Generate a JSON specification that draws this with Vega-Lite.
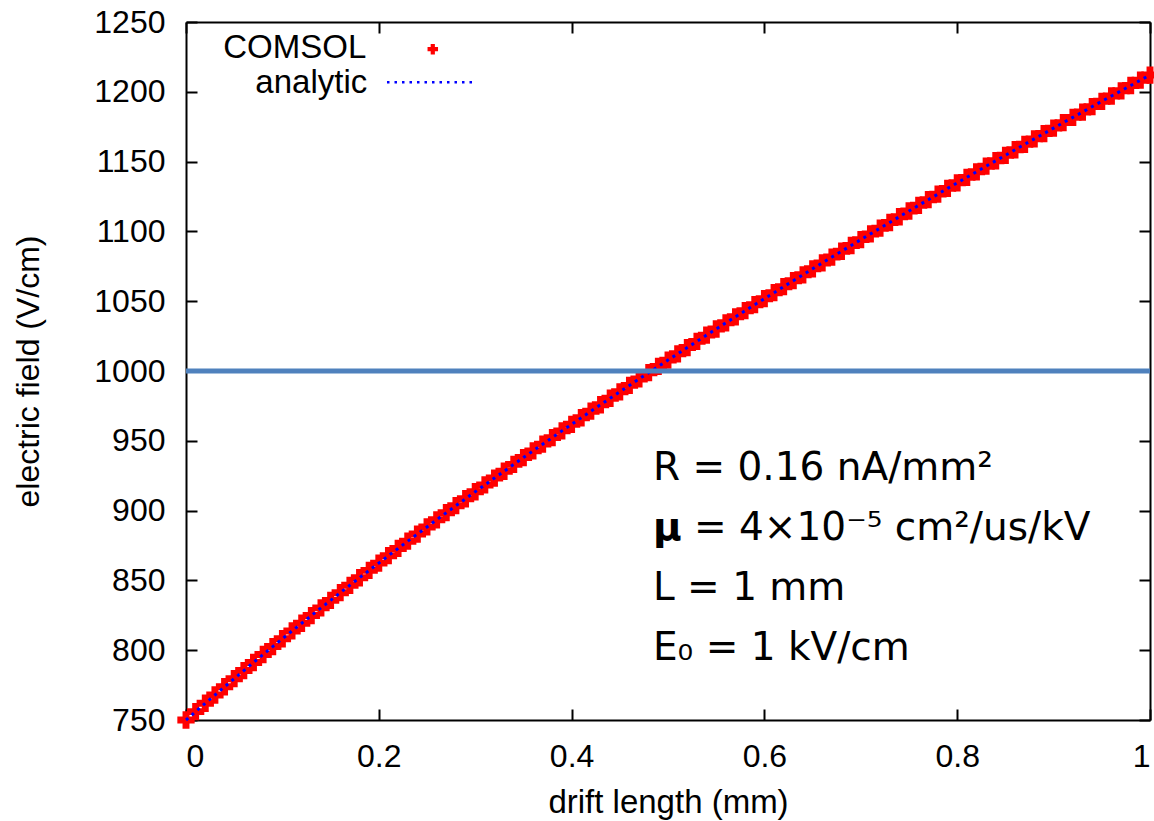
{
  "$schema": "https://vega.github.io/schema/vega-lite/v6.json",
  "width": 964,
  "height": 698,
  "autosize": {"type": "none"},
  "padding": {"left": 186, "top": 22, "right": 4, "bottom": 101},
  "background": "white",
  "config": {
    "view": {"stroke": null},
    "font": "Liberation Sans",
    "axis": {
      "domainColor": "black",
      "domainWidth": 2,
      "tickColor": "black",
      "tickWidth": 2,
      "tickSize": -11,
      "grid": false,
      "labelFont": "Liberation Sans",
      "labelFontSize": 32,
      "labelColor": "black",
      "titleFont": "Liberation Sans",
      "titleFontSize": 33,
      "titleFontWeight": "normal",
      "titleColor": "black"
    }
  },
  "datasets": {
    "one": [{}],
    "curve": [
      {"x":0,"E":750.0},{"x":0.01,"E":756.0},{"x":0.02,"E":762.0},{"x":0.03,"E":767.9},{"x":0.04,"E":773.8},
      {"x":0.05,"E":779.6},{"x":0.06,"E":785.4},{"x":0.07,"E":791.2},{"x":0.08,"E":796.9},{"x":0.09,"E":802.6},
      {"x":0.1,"E":808.2},{"x":0.11,"E":813.8},{"x":0.12,"E":819.3},{"x":0.13,"E":824.8},{"x":0.14,"E":830.3},
      {"x":0.15,"E":835.7},{"x":0.16,"E":841.2},{"x":0.17,"E":846.5},{"x":0.18,"E":851.9},{"x":0.19,"E":857.2},
      {"x":0.2,"E":862.4},{"x":0.21,"E":867.7},{"x":0.22,"E":872.9},{"x":0.23,"E":878.1},{"x":0.24,"E":883.2},
      {"x":0.25,"E":888.3},{"x":0.26,"E":893.4},{"x":0.27,"E":898.5},{"x":0.28,"E":903.5},{"x":0.29,"E":908.5},
      {"x":0.3,"E":913.5},{"x":0.31,"E":918.4},{"x":0.32,"E":923.3},{"x":0.33,"E":928.2},{"x":0.34,"E":933.1},
      {"x":0.35,"E":938.0},{"x":0.36,"E":942.8},{"x":0.37,"E":947.6},{"x":0.38,"E":952.3},{"x":0.39,"E":957.1},
      {"x":0.4,"E":961.8},{"x":0.41,"E":966.5},{"x":0.42,"E":971.2},{"x":0.43,"E":975.8},{"x":0.44,"E":980.5},
      {"x":0.45,"E":985.1},{"x":0.46,"E":989.7},{"x":0.47,"E":994.3},{"x":0.48,"E":998.8},{"x":0.49,"E":1003.3},
      {"x":0.5,"E":1007.8},{"x":0.51,"E":1012.3},{"x":0.52,"E":1016.8},{"x":0.53,"E":1021.2},{"x":0.54,"E":1025.7},
      {"x":0.55,"E":1030.1},{"x":0.56,"E":1034.5},{"x":0.57,"E":1038.8},{"x":0.58,"E":1043.2},{"x":0.59,"E":1047.5},
      {"x":0.6,"E":1051.8},{"x":0.61,"E":1056.1},{"x":0.62,"E":1060.4},{"x":0.63,"E":1064.7},{"x":0.64,"E":1068.9},
      {"x":0.65,"E":1073.2},{"x":0.66,"E":1077.4},{"x":0.67,"E":1081.6},{"x":0.68,"E":1085.8},{"x":0.69,"E":1089.9},
      {"x":0.7,"E":1094.1},{"x":0.71,"E":1098.2},{"x":0.72,"E":1102.3},{"x":0.73,"E":1106.4},{"x":0.74,"E":1110.5},
      {"x":0.75,"E":1114.6},{"x":0.76,"E":1118.7},{"x":0.77,"E":1122.7},{"x":0.78,"E":1126.7},{"x":0.79,"E":1130.8},
      {"x":0.8,"E":1134.8},{"x":0.81,"E":1138.7},{"x":0.82,"E":1142.7},{"x":0.83,"E":1146.7},{"x":0.84,"E":1150.6},
      {"x":0.85,"E":1154.5},{"x":0.86,"E":1158.5},{"x":0.87,"E":1162.4},{"x":0.88,"E":1166.3},{"x":0.89,"E":1170.1},
      {"x":0.9,"E":1174.0},{"x":0.91,"E":1177.9},{"x":0.92,"E":1181.7},{"x":0.93,"E":1185.5},{"x":0.94,"E":1189.4},
      {"x":0.95,"E":1193.2},{"x":0.96,"E":1197.0},{"x":0.97,"E":1200.7},{"x":0.98,"E":1204.5},{"x":0.99,"E":1208.3},
      {"x":1.0,"E":1212.0}
    ],
    "notes": [
      {"label": "R = 0.16 nA/mm²", "px": 0.4844, "E": 921.8},
      {"label": "L = 1 mm", "px": 0.4844, "E": 835.9},
      {"label": "E₀ = 1 kV/cm", "px": 0.4844, "E": 792.9}
    ]
  },
  "layer": [
    {
      "data": {"name": "curve"},
      "mark": {"type": "point", "shape": "cross", "filled": true, "color": "#ff0000", "size": 300, "opacity": 1},
      "encoding": {
        "x": {"field": "x", "type": "quantitative", "scale": {"domain": [0, 1], "nice": false},
          "axis": {"orient": "bottom", "values": [0, 0.2, 0.4, 0.6, 0.8, 1], "format": "~g", "title": "drift length (mm)",
            "labelPadding": 32, "titlePadding": 14}},
        "y": {"field": "E", "type": "quantitative", "scale": {"domain": [750, 1250], "nice": false, "zero": false},
          "axis": {"orient": "left", "values": [750,800,850,900,950,1000,1050,1100,1150,1200,1250], "format": "d", "title": "electric field (V/cm)",
            "titleFontSize": 32, "labelPadding": 32, "titlePadding": 48}}
      }
    },
    {
      "data": {"name": "curve"},
      "mark": {"type": "line", "color": "#0000ff", "strokeWidth": 3, "strokeDash": [3, 4.5]},
      "encoding": {
        "x": {"field": "x", "type": "quantitative",
          "axis": {"orient": "top", "values": [0, 0.2, 0.4, 0.6, 0.8, 1], "labels": false, "title": null}},
        "y": {"field": "E", "type": "quantitative",
          "axis": {"orient": "right", "values": [750,800,850,900,950,1000,1050,1100,1150,1200,1250], "labels": false, "title": null}}
      }
    },
    {
      "data": {"name": "one"},
      "mark": {"type": "rule", "color": "#4f81bd", "strokeWidth": 5},
      "encoding": {
        "y": {"datum": 1000, "type": "quantitative", "axis": null}
      }
    },
    {
      "data": {"name": "one"},
      "mark": {"type": "text", "align": "right", "baseline": "middle", "fontSize": 33, "font": "Liberation Sans", "color": "black", "text": "COMSOL"},
      "encoding": {
        "x": {"datum": 0.187, "type": "quantitative", "axis": null},
        "y": {"datum": 1231.5, "type": "quantitative", "axis": null}
      }
    },
    {
      "data": {"name": "one"},
      "mark": {"type": "text", "align": "right", "baseline": "middle", "fontSize": 33, "font": "Liberation Sans", "color": "black", "text": "analytic"},
      "encoding": {
        "x": {"datum": 0.188, "type": "quantitative", "axis": null},
        "y": {"datum": 1206, "type": "quantitative", "axis": null}
      }
    },
    {
      "data": {"name": "one"},
      "mark": {"type": "point", "shape": "cross", "filled": true, "color": "#ff0000", "size": 110, "opacity": 1},
      "encoding": {
        "x": {"datum": 0.256, "type": "quantitative", "axis": null},
        "y": {"datum": 1230.5, "type": "quantitative", "axis": null}
      }
    },
    {
      "data": {"name": "one"},
      "mark": {"type": "rule", "color": "#0000ff", "strokeWidth": 2.5, "strokeDash": [2.5, 5]},
      "encoding": {
        "x": {"datum": 0.2085, "type": "quantitative", "axis": null},
        "x2": {"datum": 0.301},
        "y": {"datum": 1206.8, "type": "quantitative", "axis": null}
      }
    },
    {
      "data": {"name": "notes"},
      "mark": {"type": "text", "align": "left", "baseline": "alphabetic", "fontSize": 39, "font": "DejaVu Sans", "color": "black"},
      "encoding": {
        "x": {"field": "px", "type": "quantitative", "axis": null},
        "y": {"field": "E", "type": "quantitative", "axis": null},
        "text": {"field": "label"}
      }
    },
    {
      "data": {"name": "one"},
      "mark": {"type": "text", "align": "left", "baseline": "alphabetic", "fontSize": 39, "font": "DejaVu Sans", "fontWeight": "bold", "color": "black", "text": "μ"},
      "encoding": {
        "x": {"datum": 0.4844, "type": "quantitative", "axis": null},
        "y": {"datum": 878.9, "type": "quantitative", "axis": null}
      }
    },
    {
      "data": {"name": "one"},
      "mark": {"type": "text", "align": "left", "baseline": "alphabetic", "fontSize": 39, "font": "DejaVu Sans", "color": "black", "dx": 41, "text": "= 4×10⁻⁵ cm²/us/kV"},
      "encoding": {
        "x": {"datum": 0.4844, "type": "quantitative", "axis": null},
        "y": {"datum": 878.9, "type": "quantitative", "axis": null}
      }
    }
  ],
  "resolve": {"axis": {"x": "independent", "y": "independent"}}
}
